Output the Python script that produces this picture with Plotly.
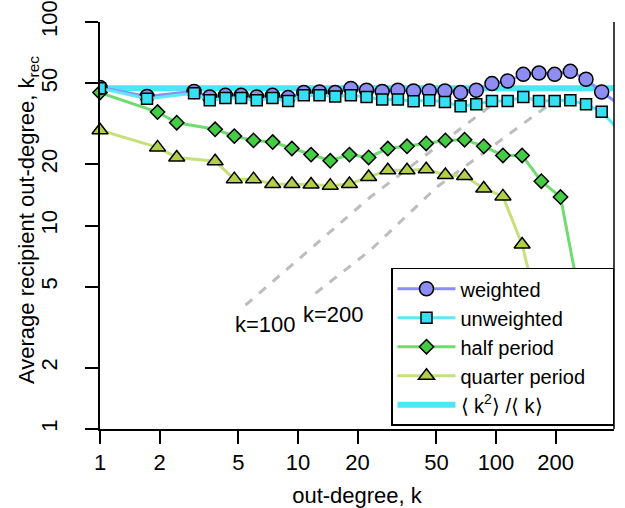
import plotly.graph_objects as go

# ---------------- data ----------------
k_bins_w = [1, 1.728, 2.986, 3.583, 4.300, 5.160, 6.192, 7.430, 8.916, 10.70,
            12.84, 15.41, 18.49, 22.19, 26.62, 31.95, 38.34, 46.01, 55.21, 66.25,
            79.50, 95.40, 114.5, 137.4, 164.8, 197.8, 237.4, 284.9, 341.8, 410.2]
weighted = [47.7, 43.1, 45.6, 42.8, 43.6, 43.6, 42.8, 43.6, 42.5, 45.0,
            45.3, 45.0, 47.1, 46.2, 45.6, 46.2, 45.8, 45.8, 45.8, 45.0,
            46.2, 49.8, 51.3, 55.3, 56.1, 55.3, 57.2, 52.3, 45.3, 40.0]
unweighted = [47.3, 42.0, 44.6, 41.2, 42.3, 42.3, 41.2, 42.3, 40.9, 43.6,
              43.6, 43.1, 43.6, 42.8, 41.6, 41.6, 40.8, 41.2, 40.5, 38.5,
              39.4, 40.9, 40.9, 42.8, 40.9, 40.9, 41.2, 39.4, 36.2, 29.9]

k_bins_p = [1, 1.953, 2.441, 3.815, 4.768, 5.960, 7.451, 9.313, 11.64, 14.55,
            18.19, 22.74, 28.42, 35.53, 44.41, 55.51, 69.39, 86.74, 108.4, 135.5,
            169.4, 211.8, 264.7]
half_period = [45.0, 36.1, 32.0, 29.7, 27.5, 26.2, 25.7, 23.9, 22.3, 20.8,
               22.3, 21.6, 23.9, 24.5, 25.3, 26.2, 26.4, 24.5, 22.1, 22.1,
               16.5, 13.8, 4.4]
quarter_period = [29.4, 24.2, 21.6, 20.7, 16.9, 16.9, 16.0, 16.0, 15.9, 15.7,
                  16.0, 17.3, 18.7, 18.7, 18.9, 17.7, 17.5, 15.2, 13.9, 8.07,
                  3.3]
k_bins_q = k_bins_p[:len(quarter_period)]

k2_over_k = 47.3
k_span = [1, 400]

guide100_k = [5.43, 23.2, 97.5]
guide100_v = [4.06, 13.8, 39.8]
guide200_k = [12.25, 23.2, 50.5, 196]
guide200_v = [4.64, 7.56, 15.5, 40.8]

x_ticks = [1, 2, 5, 10, 20, 50, 100, 200]
y_ticks = [1, 2, 5, 10, 20, 50, 100]

FONT = "Liberation Sans, Arial, sans-serif"
FS = 22
NBSP = "\u00a0"

fig = go.Figure()

# <k^2>/<k> line (behind)
fig.add_trace(go.Scatter(
    x=k_span, y=[k2_over_k, k2_over_k], mode="lines",
    line=dict(color="#4de6f7", width=6),
    name="⟨ k<sup>2</sup>⟩ /⟨ k⟩", legendrank=5, cliponaxis=False))

# guide lines
for gk, gv in ((guide100_k, guide100_v), (guide200_k, guide200_v)):
    fig.add_trace(go.Scatter(
        x=gk, y=gv, mode="lines", showlegend=False, hoverinfo="skip",
        line=dict(color="#bdbdbd", width=3, dash="dash")))

fig.add_trace(go.Scatter(
    x=k_bins_q, y=quarter_period, mode="lines+markers",
    name="quarter period" + NBSP * 4,
    legendrank=4, cliponaxis=False,
    line=dict(color="#c6e07a", width=3),
    marker=dict(symbol="triangle-up", size=14, color="#b2cf45",
                line=dict(color="black", width=1.5))))

fig.add_trace(go.Scatter(
    x=k_bins_p, y=half_period, mode="lines+markers", name="half period",
    legendrank=3, cliponaxis=False,
    line=dict(color="#6edc6e", width=3),
    marker=dict(symbol="diamond", size=11, color="#45cc45",
                line=dict(color="black", width=1.5))))

fig.add_trace(go.Scatter(
    x=k_bins_w, y=weighted, mode="lines+markers", name="weighted",
    legendrank=1, cliponaxis=True,
    line=dict(color="#8c8cfb", width=3),
    marker=dict(symbol="circle", size=14, color="#8d8df3",
                line=dict(color="black", width=1.5))))

fig.add_trace(go.Scatter(
    x=k_bins_w, y=unweighted, mode="lines+markers", name="unweighted",
    legendrank=2, cliponaxis=True,
    line=dict(color="#5ee9f8", width=3),
    marker=dict(symbol="square", size=11, color="#33e1f2",
                line=dict(color="black", width=1.5))))

axis_common = dict(
    type="log", showgrid=False, zeroline=False, showline=True,
    linecolor="black", linewidth=1.5, ticks="outside", ticklen=13,
    tickwidth=1.5, tickcolor="black", automargin=False,
    tickfont=dict(family=FONT, size=FS, color="black"),
)

fig.update_layout(
    width=625, height=508,
    margin=dict(l=100, r=11, t=22, b=79, autoexpand=False),
    paper_bgcolor="white", plot_bgcolor="white",
    font=dict(family=FONT, size=FS, color="black"),
    xaxis=dict(axis_common, range=[0, 2.596], tickvals=x_ticks,
               ticktext=[str(v) for v in x_ticks],
               title=dict(text="out-degree, k", standoff=15,
                          font=dict(family=FONT, size=FS, color="black"))),
    yaxis=dict(axis_common, range=[0, 2], tickvals=y_ticks,
               ticktext=[str(v) for v in y_ticks], tickangle=-90,
               ticklabelstandoff=19),
    legend=dict(x=1, y=0.008, xanchor="right", yanchor="bottom",
                bgcolor="white", bordercolor="black", borderwidth=1.5,
                font=dict(family=FONT, size=20, color="black"),
                tracegroupgap=0, itemwidth=58),
    shapes=[dict(type="line", xref="paper", yref="paper", x0=1, x1=1,
                 y0=0, y1=1, line=dict(color="black", width=1.5))],
    annotations=[
        dict(x=-0.1401, y=0.5135, xref="paper", yref="paper",
             text="Average recipient out-degree, k<sub>rec</sub>",
             textangle=-90, showarrow=False, xanchor="center", yanchor="middle",
             font=dict(family=FONT, size=FS, color="black")),
        dict(x=0.836, y=0.5155, xref="x", yref="y", text="k=100",
             showarrow=False, font=dict(family=FONT, size=FS, color="black")),
        dict(x=1.179, y=0.5646, xref="x", yref="y", text="k=200",
             showarrow=False, font=dict(family=FONT, size=FS, color="black")),
    ],
)

fig.write_html("out.html")
